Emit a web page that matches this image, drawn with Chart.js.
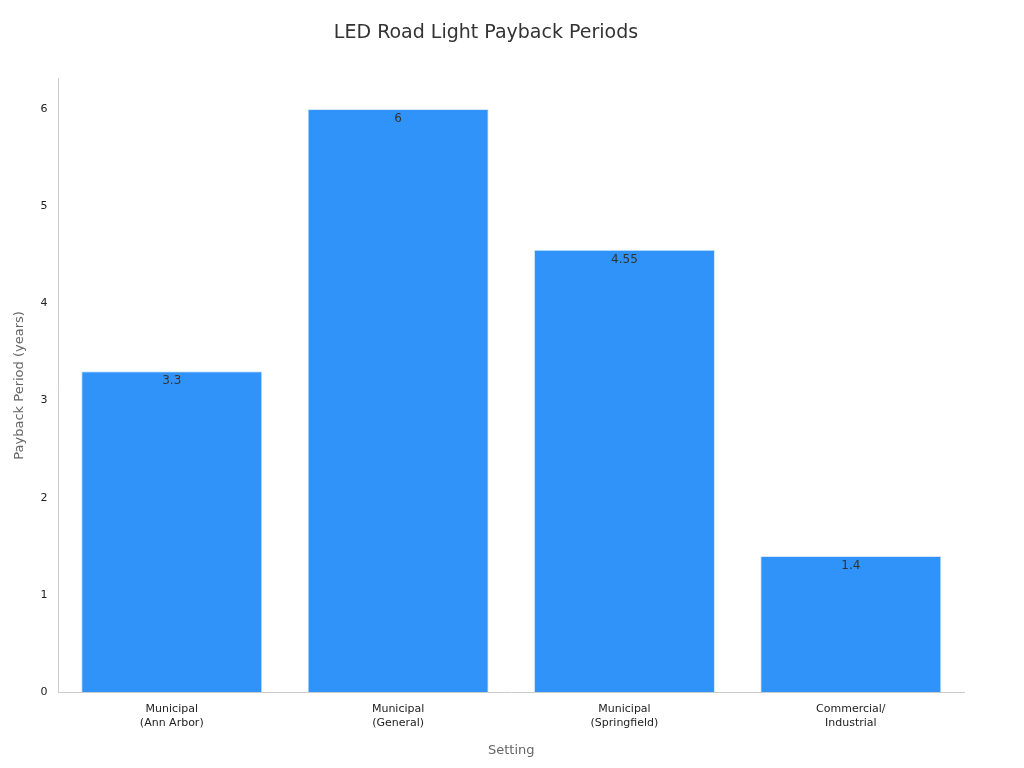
<!DOCTYPE html>
<html>
<head>
<meta charset="utf-8">
<script src="https://cdn.jsdelivr.net/npm/chart.js@4/dist/chart.umd.min.js"></script>
<style>
  html, body { margin: 0; padding: 0; background: #ffffff; }
  #wrap { width: 1024px; height: 768px; }
</style>
</head>
<body>
<div id="wrap"><canvas id="chart"></canvas></div>
<script>
const categories = [["Municipal", "(Ann Arbor)"], ["Municipal", "(General)"], ["Municipal", "(Springfield)"], ["Commercial/", "Industrial"]];
const paybackYears = [3.3, 6, 4.55, 1.4];
const yTicks = [0, 1, 2, 3, 4, 5, 6];

// valeurs affichées en haut de chaque barre
const valueLabels = {
  id: "valueLabels",
  afterDatasetsDraw(chart) {
    const ctx = chart.ctx;
    const meta = chart.getDatasetMeta(0);
    ctx.save();
    ctx.font = "12px 'DejaVu Sans'";
    ctx.fillStyle = "#333333";
    ctx.textAlign = "center";
    ctx.textBaseline = "top";
    meta.data.forEach((bar, i) => {
      ctx.fillText(String(paybackYears[i]), bar.x, bar.y + 4);
    });
    ctx.restore();
  }
};

new Chart(document.getElementById("chart").getContext("2d"), {
  type: "bar",
  data: {
    labels: categories,
    datasets: [{
      data: paybackYears,
      backgroundColor: "#2f93f9",
      borderColor: "#d6e8fb",
      borderWidth: 1,
      barPercentage: 0.8,
      categoryPercentage: 1.0
    }]
  },
  options: {
    responsive: true,
    maintainAspectRatio: false,
    animation: false,
    layout: { padding: { left: 8, right: 60, top: 10, bottom: 6 } },
    plugins: {
      legend: { display: false },
      tooltip: { enabled: false },
      title: {
        display: true,
        text: "LED Road Light Payback Periods",
        color: "#333333",
        font: { family: "'DejaVu Sans'", size: 19, weight: "normal" },
        padding: { top: 12, bottom: 34 }
      }
    },
    scales: {
      x: {
        grid: { display: false, drawTicks: true },
        border: { color: "#cccccc" },
        ticks: { color: "#222222", font: { family: "'DejaVu Sans'", size: 11 } },
        title: { display: true, text: "Setting", color: "#666666", font: { family: "'DejaVu Sans'", size: 13 }, padding: { top: 10 } }
      },
      y: {
        min: 0,
        max: 6.31,
        afterBuildTicks(scale) { scale.ticks = yTicks.map(v => ({ value: v })); },
        grid: { display: false, drawTicks: true },
        border: { color: "#cccccc" },
        ticks: { color: "#222222", font: { family: "'DejaVu Sans'", size: 11 } },
        title: { display: true, text: "Payback Period (years)", color: "#666666", font: { family: "'DejaVu Sans'", size: 13 }, padding: { bottom: 10 } }
      }
    }
  },
  plugins: [valueLabels]
});
</script>
</body>
</html>
